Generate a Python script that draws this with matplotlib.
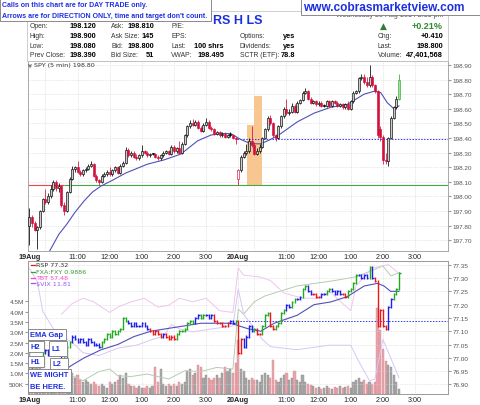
import numpy as np
import matplotlib.pyplot as plt
from matplotlib.patches import Rectangle

plt.rcParams['font.family'] = ['Liberation Sans', 'DejaVu Sans']

W, H = 480, 406

# ============================================================================
# SPY 5 min candles: 19Aug = bars 0-77, 20Aug = bars 78-138
# ============================================================================
spy_open = [
    197.80, 197.86, 197.82, 197.77, 197.79, 197.90, 197.98, 197.96, 198.00, 198.05,
    198.10, 198.06, 198.07, 197.94, 197.90, 198.03, 198.12, 198.19, 198.20, 198.17,
    198.15, 198.18, 198.19, 198.21, 198.22, 198.14, 198.11, 198.10, 198.14, 198.15,
    198.17, 198.15, 198.18, 198.20, 198.16, 198.21, 198.23, 198.32, 198.28, 198.30,
    198.27, 198.26, 198.28, 198.31, 198.30, 198.28, 198.29, 198.29, 198.27, 198.26,
    198.28, 198.30, 198.31, 198.29, 198.34, 198.31, 198.33, 198.30, 198.36, 198.42,
    198.48, 198.50, 198.49, 198.51, 198.47, 198.45, 198.49, 198.51, 198.47, 198.46,
    198.43, 198.44, 198.42, 198.43, 198.41, 198.42, 198.42, 198.40,
    198.12, 198.18, 198.27, 198.30, 198.31, 198.38, 198.35, 198.29, 198.31, 198.34,
    198.40, 198.46, 198.54, 198.50, 198.42, 198.40, 198.48, 198.55, 198.60, 198.57,
    198.58, 198.62, 198.58, 198.64, 198.66, 198.71, 198.72, 198.67, 198.64, 198.65,
    198.63, 198.64, 198.62, 198.62, 198.65, 198.62, 198.65, 198.64, 198.62, 198.63,
    198.61, 198.63, 198.60, 198.65, 198.71, 198.72, 198.81, 198.82, 198.78, 198.76,
    198.82, 198.76, 198.72, 198.46, 198.41, 198.25, 198.24, 198.40, 198.54, 198.61,
    198.67]
spy_high = [
    197.92, 197.87, 197.83, 197.80, 197.91, 197.99, 198.05, 198.02, 198.08, 198.11,
    198.11, 198.09, 198.08, 197.96, 198.04, 198.13, 198.21, 198.21, 198.24, 198.18,
    198.19, 198.20, 198.22, 198.24, 198.23, 198.15, 198.12, 198.15, 198.17, 198.18,
    198.20, 198.19, 198.21, 198.21, 198.22, 198.24, 198.34, 198.33, 198.31, 198.31,
    198.29, 198.29, 198.35, 198.32, 198.31, 198.30, 198.30, 198.30, 198.28, 198.29,
    198.31, 198.32, 198.32, 198.35, 198.35, 198.34, 198.38, 198.37, 198.43, 198.49,
    198.52, 198.53, 198.52, 198.52, 198.48, 198.50, 198.54, 198.52, 198.48, 198.47,
    198.45, 198.45, 198.44, 198.44, 198.43, 198.44, 198.43, 198.41,
    198.19, 198.28, 198.31, 198.36, 198.40, 198.48, 198.37, 198.33, 198.36, 198.41,
    198.47, 198.55, 198.56, 198.51, 198.43, 198.49, 198.56, 198.61, 198.67, 198.60,
    198.64, 198.63, 198.65, 198.67, 198.72, 198.74, 198.73, 198.68, 198.66, 198.66,
    198.65, 198.65, 198.63, 198.66, 198.66, 198.66, 198.66, 198.65, 198.64, 198.64,
    198.64, 198.65, 198.66, 198.72, 198.73, 198.82, 198.84, 198.84, 198.82, 198.90,
    198.83, 198.77, 198.73, 198.48, 198.42, 198.30, 198.41, 198.55, 198.62, 198.69,
    198.84]
spy_low = [
    197.67, 197.79, 197.76, 197.64, 197.78, 197.89, 197.95, 197.95, 197.99, 198.04,
    198.04, 198.03, 197.93, 197.87, 197.89, 198.02, 198.11, 198.17, 198.16, 198.14,
    198.14, 198.17, 198.18, 198.20, 198.13, 198.10, 198.08, 198.09, 198.13, 198.14,
    198.14, 198.14, 198.17, 198.15, 198.15, 198.20, 198.22, 198.27, 198.27, 198.26,
    198.25, 198.25, 198.27, 198.29, 198.27, 198.27, 198.28, 198.26, 198.25, 198.25,
    198.27, 198.29, 198.28, 198.28, 198.30, 198.30, 198.29, 198.29, 198.35, 198.41,
    198.47, 198.48, 198.48, 198.46, 198.44, 198.44, 198.48, 198.46, 198.45, 198.42,
    198.42, 198.41, 198.41, 198.40, 198.40, 198.41, 198.39, 198.36,
    198.08, 198.17, 198.26, 198.28, 198.30, 198.34, 198.28, 198.28, 198.30, 198.33,
    198.39, 198.45, 198.49, 198.41, 198.38, 198.39, 198.47, 198.54, 198.56, 198.56,
    198.57, 198.57, 198.57, 198.63, 198.65, 198.70, 198.66, 198.63, 198.63, 198.62,
    198.62, 198.61, 198.61, 198.61, 198.61, 198.61, 198.63, 198.61, 198.61, 198.60,
    198.60, 198.59, 198.59, 198.64, 198.70, 198.71, 198.80, 198.77, 198.75, 198.75,
    198.75, 198.71, 198.40, 198.38, 198.22, 198.22, 198.21, 198.39, 198.53, 198.60,
    198.66]
spy_close = [
    197.86, 197.82, 197.77, 197.79, 197.90, 197.98, 197.96, 198.00, 198.05, 198.10,
    198.06, 198.07, 197.94, 197.90, 198.03, 198.12, 198.19, 198.20, 198.17, 198.15,
    198.18, 198.19, 198.21, 198.22, 198.14, 198.11, 198.10, 198.14, 198.15, 198.17,
    198.15, 198.18, 198.20, 198.16, 198.21, 198.23, 198.32, 198.28, 198.30, 198.27,
    198.26, 198.28, 198.31, 198.30, 198.28, 198.29, 198.29, 198.27, 198.26, 198.28,
    198.30, 198.31, 198.29, 198.34, 198.31, 198.33, 198.30, 198.36, 198.42, 198.48,
    198.50, 198.49, 198.51, 198.47, 198.45, 198.49, 198.51, 198.47, 198.46, 198.43,
    198.44, 198.42, 198.43, 198.41, 198.42, 198.42, 198.40, 198.39,
    198.18, 198.27, 198.30, 198.31, 198.38, 198.35, 198.29, 198.31, 198.34, 198.40,
    198.46, 198.54, 198.50, 198.42, 198.40, 198.48, 198.55, 198.60, 198.57, 198.58,
    198.62, 198.58, 198.64, 198.66, 198.71, 198.72, 198.67, 198.64, 198.65, 198.63,
    198.64, 198.62, 198.62, 198.65, 198.62, 198.65, 198.64, 198.62, 198.63, 198.61,
    198.63, 198.60, 198.65, 198.71, 198.72, 198.81, 198.82, 198.78, 198.76, 198.82,
    198.76, 198.72, 198.42, 198.41, 198.25, 198.24, 198.40, 198.54, 198.61, 198.67,
    198.80]

# moving average on SPY, read at sample bars
ma_bars = [5, 7.4, 11, 14, 17, 20.5, 23.6, 26.7, 31, 36, 40, 44, 50.3, 56.6, 62.8,
           67.8, 71.5, 75.2, 78.9, 82.7, 86.4, 90.1, 93.9, 100, 106.3, 112.5,
           118.7, 125, 128.7, 131.2, 133.7, 136.1, 138]
ma_vals = [197.50, 197.62, 197.74, 197.81, 197.89, 197.97, 198.03, 198.07, 198.11,
           198.16, 198.19, 198.22, 198.25, 198.29, 198.38, 198.42, 198.43, 198.43,
           198.39, 198.36, 198.36, 198.39, 198.43, 198.51, 198.57, 198.61, 198.63,
           198.70, 198.72, 198.71, 198.64, 198.60, 198.62]

low_line = 198.08
low_red_until = 13
prev_close = 198.39
zone_start = [81.2, 83.8]
zone_end = [83.8, 86.8]
zone_top = [198.49, 198.69]

# ============================================================================
# Lower panel: RSP bars, volume, overlays
# ============================================================================
rsp_first_open = 76.90
rsp_close = [
    76.95, 76.97, 76.99, 76.98, 77.00, 77.02, 77.03, 77.01, 77.02, 77.03,
    77.02, 77.01, 76.99, 77.00, 77.04, 77.06, 77.08, 77.07, 77.06, 77.07,
    77.06, 77.05, 77.07, 77.06, 77.05, 77.05, 77.04, 77.06, 77.07, 77.09,
    77.08, 77.10, 77.09, 77.10, 77.11, 77.15, 77.14, 77.13, 77.12, 77.13,
    77.12, 77.12, 77.13, 77.12, 77.11, 77.10, 77.09, 77.10, 77.09, 77.08,
    77.09, 77.08, 77.07, 77.08, 77.07, 77.09, 77.10, 77.10, 77.11, 77.13,
    77.14, 77.13, 77.15, 77.16, 77.15, 77.16, 77.16, 77.15, 77.16, 77.14,
    77.13, 77.13, 77.12, 77.12, 77.13, 77.14, 77.13, 77.14,
    77.02, 77.07, 77.04, 77.08, 77.12, 77.10, 77.11, 77.09, 77.09, 77.12,
    77.16, 77.17, 77.12, 77.11, 77.12, 77.13, 77.17, 77.18, 77.20, 77.19,
    77.21, 77.22, 77.22, 77.23, 77.26, 77.27, 77.25, 77.24, 77.24, 77.23,
    77.23, 77.24, 77.24, 77.25, 77.26, 77.25, 77.24, 77.25, 77.24, 77.24,
    77.23, 77.25, 77.26, 77.28, 77.31, 77.31, 77.30, 77.31, 77.30, 77.34,
    77.30, 77.29, 77.12, 77.18, 77.12, 77.11, 77.19, 77.22, 77.24, 77.26,
    77.32]
rsp_color = ("gggbggbbbbbbbb" "ggbbbbbbbbbbb" "gggggggggg" "bbbbbbbb" "rrrrr" "b"
             "rrrr" "ggggggg" "bb" "gg" "bbb" "rrrrrr" "bb" "g"
             "rr" "bbbb" "g" "rr" "ggg" "rr" "gggg" "bb" "gg" "bb" "gg" "bb" "rrr"
             "bb" "gg" "bbbb" "rr" "gggg" "bbbb" "g" "b" "rrrrr" "bb" "ggg")
rsp_prev_close = 77.14

rsp_ma_bars = [5, 10, 15.5, 20.5, 26.7, 33, 39.1, 45.3, 51.5, 57.8, 64, 70, 75.2,
               81.4, 86.4, 91.4, 100, 106.3, 112.5, 118.7, 125, 130, 132.4, 134.9, 138]
rsp_ma_vals = [76.88, 76.93, 76.97, 77.00, 77.03, 77.05, 77.08, 77.10, 77.11, 77.12,
               77.13, 77.13, 77.13, 77.11, 77.10, 77.13, 77.16, 77.20, 77.21, 77.23,
               77.27, 77.28, 77.27, 77.25, 77.25]

volume_m = [
    2.4, 1.6, 1.4, 1.5, 1.3, 1.2, 1.0, 0.9, 1.1, 0.8, 0.9, 0.7, 1.2, 1.0, 0.9, 1.1,
    1.0, 0.8, 0.9, 0.7, 0.6, 0.7, 0.6,
    0.5, 0.6, 0.5, 0.4, 0.5, 0.4, 0.3,
    0.6, 0.5, 0.6, 0.7, 0.9, 0.8, 1.0,
    0.5, 0.4, 0.4, 0.3, 0.4, 0.3, 0.3, 0.4, 0.3, 0.4,
    1.3, 0.6, 1.2, 0.5, 0.4, 0.5, 0.4,
    0.5, 0.4, 0.6, 0.5, 0.6, 1.1, 1.2,
    0.9, 1.0, 1.4, 1.3, 0.8, 0.9, 0.8, 0.7,
    0.8, 0.9, 0.8, 1.0, 1.3, 1.1, 1.2, 1.0, 1.5,
    2.6, 1.2, 1.1, 0.8, 0.7, 0.8, 0.7, 0.7, 0.6, 0.9,
    1.0, 0.9, 0.8, 1.65, 0.7, 0.6, 0.8, 0.9, 1.0, 0.7,
    0.8, 1.1, 0.7, 0.6, 0.9, 0.6, 0.5, 0.45, 0.4, 0.3,
    0.35, 0.25, 0.3, 0.4, 0.3, 0.25, 0.35, 0.3, 0.4, 0.3,
    0.35, 0.4, 0.3, 0.6, 0.7, 0.8, 0.6, 0.7, 0.5, 0.6,
    0.5, 0.6, 4.2, 3.1, 2.2, 1.6, 1.4, 1.3, 0.9, 0.6, 0.25]

fxa_bars = [0, 8, 16, 20, 26, 30, 33, 38, 44, 52, 58, 64, 70, 76,
            78, 80, 84, 88, 100, 113, 122, 129, 132, 135, 138]
fxa_vals = [0.9752, 0.9758, 0.9762, 0.9756, 0.9767, 0.9770, 0.9762, 0.9761, 0.9764,
            0.9758, 0.9768, 0.9767, 0.9772, 0.9770, 0.9842, 0.9836, 0.9851, 0.9858,
            0.9870, 0.9876, 0.9881, 0.9890, 0.9894, 0.9882, 0.9886]
tbt_bars = [12, 16, 20, 24, 27, 30, 33, 38, 43, 48, 52, 56, 61, 66, 71, 76,
            78, 80, 86, 90, 95, 102, 108, 112, 117, 120, 122, 128, 134, 138]
tbt_vals = [57.25, 57.31, 57.34, 57.32, 57.29, 57.26, 57.29, 57.32, 57.34, 57.29,
            57.30, 57.34, 57.32, 57.34, 57.27, 57.26, 57.51, 57.47, 57.46, 57.44,
            57.37, 57.34, 57.34, 57.38, 57.31, 57.27, 57.41, 57.51, 57.53, 57.48]
vix_bars = [0, 3, 5, 10, 16, 20, 26, 33, 40, 46, 50, 53, 56, 61, 68, 76,
            78, 80, 87, 90, 100, 112, 120, 123, 127, 129, 132, 135, 138]
vix_vals = [12.55, 12.46, 12.26, 12.11, 12.05, 11.98, 11.96, 12.01, 12.03, 12.07,
            12.09, 12.17, 12.14, 12.12, 12.14, 12.16, 12.41, 12.24, 12.07, 12.02,
            12.00, 12.03, 12.03, 11.92, 11.79, 11.80, 12.07, 11.94, 11.81]

tick_bars = [0, 18, 30, 42, 54, 66, 78, 96, 108, 120, 132, 144]
tick_labels = ['19Aug', '11:00', '12:00', '1:00', '2:00', '3:00',
               '20Aug', '11:00', '12:00', '1:00', '2:00', '3:00']
hour_bars = [6, 18, 30, 42, 54, 66, 78, 84, 96, 108, 120, 132, 144]


def fx(x):
    return x / W


def fy(y):
    return 1 - y / H


def panel(x0, y0, x1, y1):
    return [fx(x0), fy(y1), (x1 - x0) / W, (y1 - y0) / H]


def style_time_axis(ax):
    ax.set_xlim(-0.5, 156.3)
    ax.set_xticks(tick_bars)
    ax.set_xticklabels(tick_labels)
    for lab in ax.get_xticklabels():
        if 'Aug' in lab.get_text():
            lab.set_fontweight('bold')
    ax.tick_params(axis='x', length=0, pad=1.5, labelsize=5.2, labelcolor='#222222')
    for b in hour_bars:
        ax.axvline(b, color='#cfcfcf', lw=0.5, ls=(0, (1, 1.5)), zorder=0)
    for s in ax.spines.values():
        s.set_color('#9a9a9a')
        s.set_linewidth(0.6)


fig = plt.figure(figsize=(4.8, 4.06), dpi=100)
fig.patch.set_facecolor('white')

# ---------------------------------------------------------------- top panel
ax = fig.add_axes(panel(28, 62, 448, 252))
style_time_axis(ax)
ax.set_ylim(197.626, 198.927)
yt = np.round(np.arange(197.70, 198.905, 0.10), 2)
ax.yaxis.tick_right()
ax.set_yticks(yt)
ax.set_yticklabels([f'{v:.2f}' for v in yt])
ax.tick_params(axis='y', length=2, pad=1.5, labelsize=4.6, labelcolor='#555555', color='#9a9a9a')
for v in yt:
    ax.axhline(v, color='#d4d4d4', lw=0.5, ls=(0, (1, 1.5)), zorder=0)

o, hi, lo, c = map(np.array, (spy_open, spy_high, spy_low, spy_close))
idx = np.arange(len(c))
prev = np.r_[o[0], c[:-1]]
edge = ['black' if c[i] >= prev[i] else '#d2103c' for i in idx]
face = []
for i in idx:
    if c[i] > o[i]:
        face.append('#cccccc' if edge[i] == 'black' else 'white')
    else:
        face.append(edge[i])
edge[-1] = '#33a833'
face[-1] = '#9fe09f'

for s, e, t in zip(zone_start, zone_end, zone_top):
    ax.add_patch(Rectangle((s, low_line), e - s, t - low_line, facecolor='#f8c690',
                           edgecolor='none', zorder=1))
ax.hlines(low_line, -0.5, low_red_until, colors='#ee4444', lw=0.8, zorder=2)
ax.hlines(low_line, low_red_until, 156.3, colors='#44aa44', lw=0.8, zorder=2)
ax.hlines(prev_close, 77.5, 156.3, colors='#3333ff', lw=0.7, linestyles=(0, (1.5, 1.5)), zorder=2)
ax.plot(ma_bars, ma_vals, color='#5050b8', lw=0.8, zorder=2.5)

ax.vlines(idx, lo, hi, colors=edge, lw=0.55, zorder=3)
ax.bar(idx, np.maximum(np.abs(c - o), 0.006), bottom=np.minimum(o, c), width=0.75,
       color=face, edgecolor=edge, linewidth=0.45, zorder=4)

# ---------------------------------------------------------------- lower panel
axv = fig.add_axes(panel(28, 262, 448, 395))
style_time_axis(axv)
axv.set_ylim(0, 6.46)
vt = [0.5, 1.0, 1.5, 2.0, 2.5, 3.0, 3.5, 4.0, 4.5]
axv.set_yticks(vt)
axv.set_yticklabels(['500K'] + [f'{v:.1f}M' for v in vt[1:]])
axv.tick_params(axis='y', length=2, pad=1, labelsize=4.6, labelcolor='#555555', color='#9a9a9a')
vol = np.array(volume_m)
vcol = ['#a8a8a8' if c[i] >= prev[i] else '#e6a4ad' for i in idx]
vedge = ['#8c8c8c' if c[i] >= prev[i] else '#d88890' for i in idx]
axv.bar(idx, vol, width=0.8, color=vcol, edgecolor=vedge, linewidth=0.3, zorder=1)


def overlay(bars, vals, lim, color):
    a = axv.twinx()
    a.set_ylim(*lim)
    a.axis('off')
    a.plot(bars, vals, color=color, lw=0.7)
    a.set_xlim(-0.5, 156.3)
    return a


overlay(fxa_bars, fxa_vals, (0.9740, 0.9900), '#b5ccb0')
overlay(tbt_bars, tbt_vals, (56.80, 57.55), '#f2c4ee')
overlay(vix_bars, vix_vals, (11.70, 12.60), '#d9c6f6')

axp = axv.twinx()
axp.set_xlim(-0.5, 156.3)
axp.set_ylim(76.864, 77.364)
pt = np.round(np.arange(76.90, 77.351, 0.05), 2)
axp.set_yticks(pt)
axp.set_yticklabels([f'{v:.2f}' for v in pt])
axp.tick_params(axis='y', length=2, pad=1.5, labelsize=4.6, labelcolor='#555555', color='#9a9a9a')
for s in axp.spines.values():
    s.set_color('#9a9a9a')
    s.set_linewidth(0.6)
for v in pt:
    axp.axhline(v, color='#d4d4d4', lw=0.5, ls=(0, (1, 1.5)), zorder=0)

rc = np.array(rsp_close)
ro = np.r_[rsp_first_open, rc[:-1]]
cmap = {'g': '#1faa1f', 'b': '#2020ee', 'r': '#ee1515'}
rcol = [cmap[k] for k in rsp_color]
axp.hlines(rsp_prev_close, 77.5, 156.3, colors='#3333ff', lw=0.7, linestyles=(0, (1.5, 1.5)))
axp.plot(rsp_ma_bars, rsp_ma_vals, color='#5050b8', lw=0.8)
axp.vlines(idx, np.minimum(ro, rc) - 0.004, np.maximum(ro, rc) + 0.004, colors=rcol, lw=1.0)
axp.hlines(rc, idx, idx + 0.6, colors=rcol, lw=1.0)

# ---------------------------------------------------------------- header
fig.add_artist(Rectangle((fx(27), fy(62)), (448 - 27) / W, 50 / H, transform=fig.transFigure,
                         facecolor='white', edgecolor='#bbbbbb', lw=0.5, zorder=0.5))
fig.text(fx(443), fy(15.5), 'Wednesday 20-Aug-2014 2:35 pm', ha='right', va='center',
         fontsize=5, color='#555555', zorder=2)
fig.text(fx(213), fy(21), 'RS H LS', fontsize=9, fontweight='bold', color='#1a2fe0',
         ha='left', va='center')

rows = [26.7, 36.3, 46.0, 55.7]
lab_kw = dict(fontsize=4.9, color='#333333', va='center')
val_kw = dict(fontsize=5.3, color='black', fontweight='bold', va='center')
for y, lab, val in zip(rows, ['Open:', 'High:', 'Low:', 'Prev Close:'],
                       ['198.120', '198.900', '198.080', '198.390']):
    fig.text(fx(30), fy(y), lab, **lab_kw)
    fig.text(fx(96), fy(y), val, ha='right', **val_kw)
for y, lab, val in zip(rows, ['Ask:', 'Ask Size:', 'Bid:', 'Bid Size:'],
                       ['198.810', '145', '198.800', '51']):
    fig.text(fx(111), fy(y), lab, **lab_kw)
    fig.text(fx(154), fy(y), val, ha='right', **val_kw)
for y, lab, val in zip(rows, ['P/E:', 'EPS:', 'Last:', 'VWAP:'],
                       ['', '', '100 shrs', '198.495']):
    fig.text(fx(171), fy(y), lab, **lab_kw)
    fig.text(fx(224), fy(y), val, ha='right', **val_kw)
for y, lab, val in zip(rows[1:], ['Options:', 'Dividends:', 'SCTR (ETF):'],
                       ['yes', 'yes', '78.8']):
    fig.text(fx(240), fy(y), lab, **lab_kw)
    fig.text(fx(295), fy(y), val, ha='right', **val_kw)
fig.text(fx(383), fy(26.5), '\u25B2', fontsize=6.5, color='#2e7d32', ha='center', va='center',
         family='DejaVu Sans')
fig.text(fx(443), fy(26.7), '+0.21%', fontsize=6.5, color='#2e8b2e', fontweight='bold',
         ha='right', va='center')
for y, lab, val in zip(rows[1:], ['Chg:', 'Last:', 'Volume:'],
                       ['+0.410', '198.800', '47,401,568']):
    fig.text(fx(378), fy(y), lab, **lab_kw)
    fig.text(fx(443), fy(y), val, ha='right', **val_kw)

fig.text(fx(34), fy(66), 'SPY (5 min) 198.80', fontsize=4.6, color='#333333', va='center',
         family='DejaVu Sans')
fig.text(fx(30), fy(66), '\u00a5', fontsize=4.6, color='#222222', va='center', ha='center',
         family='DejaVu Sans')

# ---------------------------------------------------------------- lower legend
leg = [('RSP 77.32', '#333333', 265.7), ('FXA:FXY 0.9886', '#3c9a3c', 272.7),
       ('TBT 57.48', '#ff44cc', 278.7), ('\\$VIX 11.81', '#9a55ee', 284.3)]
for txt, col, y in leg:
    fig.text(fx(36.5), fy(y), txt, fontsize=4.6, color=col, va='center', family='DejaVu Sans')
icon_cols = ['#ee1515', '#3c9a3c', '#ff44cc', '#9a55ee']
for col, (_, _, y) in zip(icon_cols, leg):
    fig.add_artist(plt.Line2D([fx(30.5), fx(34.5)], [fy(y), fy(y)], color=col, lw=0.9))


# ---------------------------------------------------------------- note boxes
def note(x0, y0, x1, y1, lines, size=5.4):
    fig.add_artist(Rectangle((fx(x0), fy(y1)), (x1 - x0) / W, (y1 - y0) / H,
                             transform=fig.transFigure, facecolor='white',
                             edgecolor='#8a8a8a', lw=0.7, zorder=5))
    n = len(lines)
    for k, t in enumerate(lines):
        yy = y0 + (y1 - y0) * (k + 0.5) / n
        fig.text(fx(x0 + 2.5), fy(yy), t, fontsize=size, fontweight='bold', color='#1f2fe0',
                 va='center', ha='left', zorder=6)


note(0, 0, 211, 21.5, ['Calls on this chart are for DAY TRADE only.',
                       "Arrows are for DIRECTION ONLY, time and target don't count."], size=5.0)
note(301, 0, 482, 16, ['www.cobrasmarketview.com'], size=8.6)
note(28, 330, 66, 341, ['EMA Gap'])
note(28, 342, 44, 353, ['H2'])
note(49, 342, 67, 357, ['L1'])
note(28, 357, 44, 368, ['H1'])
note(50, 359, 68, 371, ['L2'])
note(28, 370, 71, 393, ['WE MIGHT', 'BE HERE.'])

fig.savefig('out.png', dpi=100)
